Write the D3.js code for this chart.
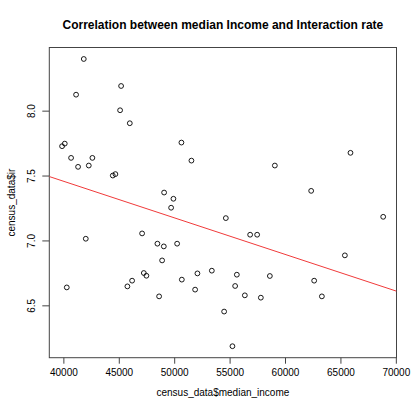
<!DOCTYPE html>
<html>
<head>
<meta charset="utf-8">
<script src="https://cdn.jsdelivr.net/npm/d3@7"></script>
<style>
  body { margin: 0; background: #fff; }
  text { font-family: "Liberation Sans", Arial, sans-serif; }
</style>
</head>
<body>
<div id="chart"></div>
<script>
const width = 420
const height = 420
const margin = { top: 47.5, bottom: 62.3, left: 49.3, right: 23.5 }

// Datos
const income = [41841, 45209, 41146, 45118, 45994, 40126, 39883, 50652, 40695, 42618,
  41327, 42293, 51555, 44459, 44694, 49090, 49930, 65907, 59083, 62360,
  49722, 42022, 47104, 48485, 49063, 50264, 48910, 40307, 47258, 47492,
  46202, 45777, 50688, 52096, 53396, 51888, 48639, 54660, 68859, 56853,
  57485, 65402, 55653, 58632, 55499, 62630, 56375, 57819, 63326, 54506, 55256]
const ir = [8.398, 8.190, 8.123, 8.003, 7.903, 7.746, 7.726, 7.754, 7.636, 7.636,
  7.567, 7.577, 7.615, 7.500, 7.511, 7.369, 7.321, 7.675, 7.577, 7.382,
  7.252, 7.013, 7.054, 6.975, 6.954, 6.975, 6.846, 6.638, 6.749, 6.728,
  6.690, 6.646, 6.698, 6.746, 6.767, 6.621, 6.569, 7.172, 7.182, 7.044,
  7.044, 6.885, 6.736, 6.726, 6.649, 6.690, 6.577, 6.559, 6.569, 6.452, 6.185]
const xTicks = [40000, 45000, 50000, 55000, 60000, 65000, 70000]
const yTicks = [6.5, 7.0, 7.5, 8.0]
// recta de regresion (abline)
const intercept = 8.584
const slope = -2.819e-5

const data = income.map((d, i) => ({ income: d, ir: ir[i] }))

const innerW = width - margin.left - margin.right
const innerH = height - margin.top - margin.bottom

const svg = d3.select("#chart")
  .append("svg")
  .attr("width", width)
  .attr("height", height)

svg.append("rect").attr("width", width).attr("height", height).attr("fill", "#fff")

// Escalas
const x = d3.scaleLinear().domain([38730, 70060]).range([0, innerW])
const y = d3.scaleLinear().domain([6.0965, 8.4865]).range([innerH, 0])

const plot = svg.append("g").attr("transform", `translate(${margin.left}, ${margin.top})`)

svg.append("defs").append("clipPath").attr("id", "clip")
  .append("rect").attr("width", innerW).attr("height", innerH)

// Ejes
const xAxisGroup = plot.append("g").attr("transform", `translate(0, ${innerH})`)
  .call(d3.axisBottom(x).tickValues(xTicks).tickSize(6).tickSizeOuter(0).tickFormat(d3.format("d")))
xAxisGroup.selectAll("text").attr("y", 18.3).attr("dy", null)
  .attr("font-size", 10).attr("fill", "#000")

const yAxisGroup = plot.append("g")
  .call(d3.axisLeft(y).tickValues(yTicks).tickSize(7).tickSizeOuter(0).tickFormat(d3.format(".1f")))
yAxisGroup.selectAll("text")
  .attr("transform", "rotate(-90)")
  .attr("x", 0).attr("y", -14.3).attr("dy", null)
  .attr("text-anchor", "middle")
  .attr("font-size", 10).attr("fill", "#000")

svg.selectAll(".domain").remove()
svg.selectAll(".tick line").attr("stroke", "#444")
svg.selectAll(".tick text").attr("font-family", "Liberation Sans, Arial, sans-serif")

// Caja
plot.append("rect")
  .attr("width", innerW).attr("height", innerH)
  .attr("fill", "none").attr("stroke", "#444").attr("stroke-width", 1)

// Puntos
plot.selectAll("circle").data(data).join("circle")
  .attr("cx", d => x(d.income))
  .attr("cy", d => y(d.ir))
  .attr("r", 2.4)
  .attr("fill", "none")
  .attr("stroke", "#000")
  .attr("stroke-width", 0.9)

// Regresion
const xd = x.domain()
plot.append("line")
  .attr("clip-path", "url(#clip)")
  .attr("x1", x(xd[0])).attr("y1", y(intercept + slope * xd[0]))
  .attr("x2", x(xd[1])).attr("y2", y(intercept + slope * xd[1]))
  .attr("stroke", "#f03a3a").attr("stroke-width", 1)

// Textos
svg.append("text")
  .attr("x", margin.left + innerW / 2).attr("y", 29)
  .attr("text-anchor", "middle").attr("font-size", 12).attr("font-weight", "bold")
  .text("Correlation between median Income and Interaction rate")

svg.append("text")
  .attr("x", margin.left + innerW / 2).attr("y", 395.5)
  .attr("text-anchor", "middle").attr("font-size", 10)
  .text("census_data$median_income")

svg.append("text")
  .attr("transform", `translate(15, ${margin.top + innerH / 2}) rotate(-90)`)
  .attr("text-anchor", "middle").attr("font-size", 10)
  .text("census_data$ir")
</script>
</body>
</html>
